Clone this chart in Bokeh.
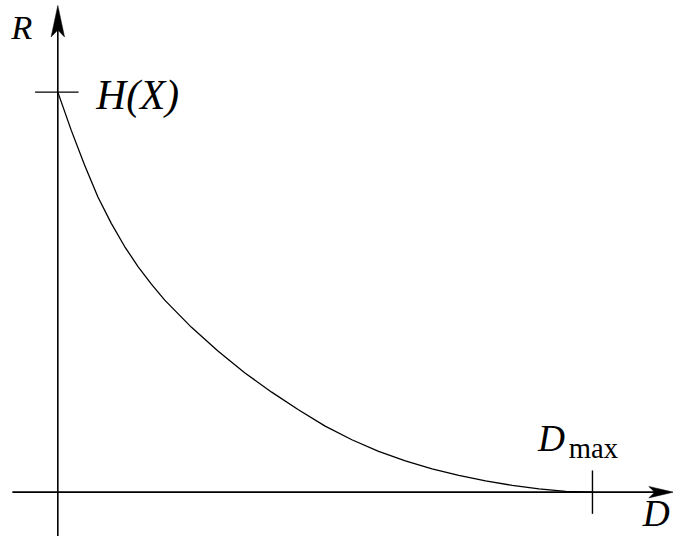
from bokeh.plotting import figure
from bokeh.embed import file_html
from bokeh.resources import INLINE
from bokeh.core.properties import value

# ---- data: rate-distortion curve R(D), D in units of D_max, R in units of H(X)
distortion = [0.0, 0.025, 0.05, 0.075, 0.10, 0.125, 0.15, 0.175, 0.20,
              0.25, 0.30, 0.35, 0.40, 0.45, 0.50, 0.55, 0.60, 0.65,
              0.70, 0.75, 0.80, 0.85, 0.90, 0.95, 1.00]
rate = [1.000, 0.905, 0.818, 0.738, 0.672, 0.614, 0.564, 0.520, 0.480,
        0.412, 0.352, 0.298, 0.250, 0.206, 0.165, 0.131, 0.102, 0.078,
        0.058, 0.042, 0.028, 0.017, 0.008, 0.002, 0.000]
tick_d = [1.0]          # D_max
tick_r = [1.0]          # H(X)
r_tick_label = "H(X)"
d_tick_label_main = "D"
d_tick_label_sub = "max"
x_label = "D"
y_label = "R"

W, H = 673, 536
REF_W, REF_H = 681, 544   # layout designed on a 681x544 frame
OX, OY = 58, 499          # frame position of origin
SX, SY = 541, 406         # frame pixels per unit
kx, ky = W / REF_W, H / REF_H


def dx(px):
    return (px - OX) / SX


def ry(py):
    return (OY - py) / SY


p = figure(width=W, height=H, output_backend="svg", toolbar_location=None,
           x_range=(dx(0), dx(REF_W)), y_range=(ry(REF_H), ry(0)),
           x_axis_type=None, y_axis_type=None, min_border=0,
           outline_line_color=None)
p.grid.visible = False
p.background_fill_color = "white"
p.border_fill_color = "white"

AX_W = 1.6
# axes lines
p.line([dx(12), dx(668)], [0, 0], line_color="black", line_width=AX_W)
p.line([0, 0], [ry(REF_H + 5), ry(25)], line_color="black", line_width=AX_W)

# arrowheads (LaTeX-like, concave back)
tipx, backx, notchx, hw = 681, 656, 662, 5.8
p.patch([dx(tipx), dx(backx), dx(notchx), dx(backx)],
        [0, ry(OY - hw), 0, ry(OY + hw)], fill_color="black", line_color="black",
        line_width=0.5)
tipy, backy, notchy, hwy = 5, 37, 30, 6.8
p.patch([0, dx(OX - hwy), 0, dx(OX + hwy)],
        [ry(tipy), ry(backy), ry(notchy), ry(backy)], fill_color="black",
        line_color="black", line_width=0.5)

# ticks
for r in tick_r:
    p.line([dx(35), dx(79)], [r, r], line_color="black", line_width=1.4)
for d in tick_d:
    p.line([d, d], [ry(477), ry(521)], line_color="black", line_width=1.4)

# curve
p.line(distortion, rate, line_color="black", line_width=1.3)

FONT = value("Liberation Serif")
SHIFT = 0.42   # observed baseline offset of rendered text, in em


def label(xpx, base_px, txt, size, italic=True):
    p.text(x=[dx(xpx)], y=[ry(base_px - SHIFT * size)], text=[txt],
           text_font=FONT, text_font_style="italic" if italic else "normal",
           text_font_size="%.1fpx" % (size * ky),
           text_baseline="alphabetic", text_align="left", text_color="black")


label(11, 42, y_label, 35)
label(97, 114, r_tick_label, 42)
label(544, 461, d_tick_label_main, 38)
label(575, 467, d_tick_label_sub, 29, italic=False)
label(650, 537, x_label, 38)

open("out.html", "w").write(file_html(p, INLINE))
